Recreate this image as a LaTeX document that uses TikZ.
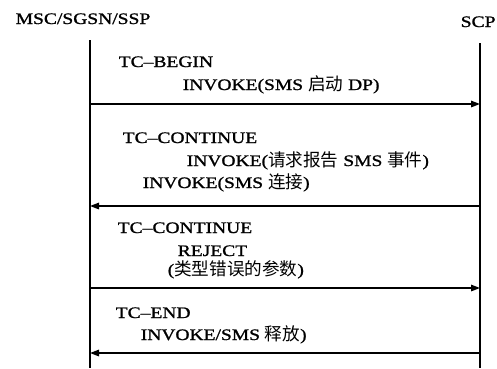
\documentclass[tikz,border=0pt]{standalone}
\usepackage{fontspec}
\setmainfont{Liberation Serif}[FakeStretch=1.22,FakeBold=1.2]
\newfontfamily\cjkfont{Noto Sans CJK SC}[Scale=1.1]
\newcommand{\zhtxt}[1]{{\cjkfont #1}}
\usetikzlibrary{arrows.meta}
\begin{document}
\begin{tikzpicture}[x=1pt,y=-1pt,line width=1.5pt,
  lbl/.style={anchor=base west,inner sep=0pt,text height=11pt,text depth=3pt,
    font=\fontsize{16}{18}\selectfont},
  msg/.style={-{Triangle[length=9pt,width=6.5pt]}}]
\useasboundingbox (0,0) rectangle (497,368);
% participants
\node[lbl] (msc) at (15,24) {MSC/SGSN/SSP};
\node[lbl] (scp) at (460,27) {SCP};
% lifelines
\coordinate (lt) at (90,40);  \coordinate (lb) at (90,368);
\coordinate (rt) at (480,43); \coordinate (rb) at (480,368);
\draw (lt) -- (lb);
\draw (rt) -- (rb);
% message endpoints
\coordinate (l1) at (90,104); \coordinate (r1) at (480,104);
\coordinate (l2) at (90,206); \coordinate (r2) at (480,206);
\coordinate (l3) at (90,288); \coordinate (r3) at (480,288);
\coordinate (l4) at (90,353); \coordinate (r4) at (480,353);
\draw[msg] (l1) -- (r1);
\draw[msg] (r2) -- (l2);
\draw[msg] (l3) -- (r3);
\draw[msg] (r4) -- (l4);
% labels
\node[lbl] (t1) at (118,67) {TC–BEGIN};
\node[lbl] (t2) at (182,90) {INVOKE(SMS \zhtxt{启动} DP)};
\node[lbl] (t3) at (122,143) {TC–CONTINUE};
\node[lbl] (t4) at (186,166) {INVOKE(\zhtxt{请求报告} SMS \zhtxt{事件})};
\node[lbl] (t5) at (142,188) {INVOKE(SMS \zhtxt{连接})};
\node[lbl] (t6) at (117,233) {TC–CONTINUE};
\node[lbl] (t7) at (177,256) {REJECT};
\node[lbl] (t8) at (167,275) {(\zhtxt{类型错误的参数})};
\node[lbl] (t9) at (115,318) {TC–END};
\node[lbl] (t10) at (140,340) {INVOKE/SMS \zhtxt{释放})};
\end{tikzpicture}
\end{document}
